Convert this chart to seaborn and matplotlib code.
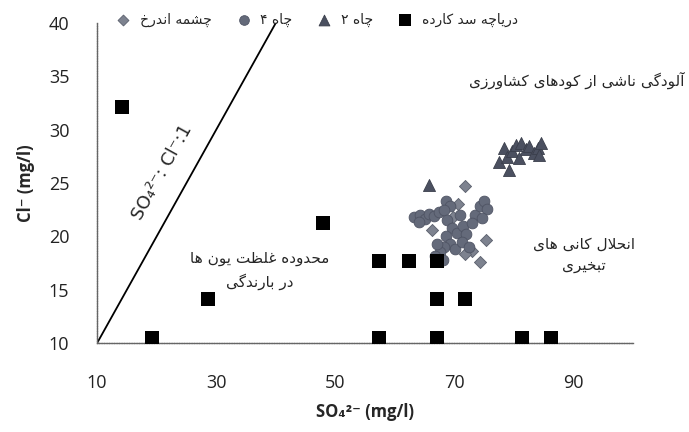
import pandas as pd
import matplotlib.pyplot as plt
import seaborn as sns

# dariache sad karde (squares)
sq_x = [14.2, 19.2, 28.6, 47.9, 57.4, 57.4, 62.4, 67.0, 67.0, 67.0, 71.8, 81.4, 86.2]
sq_y = [32.1, 10.45, 14.1, 21.2, 17.7, 10.45, 17.7, 17.7, 14.1, 10.45, 14.1, 10.45, 10.45]

# chah 2 (triangles)
tri_x = [65.8, 77.5, 78.3, 78.8, 79.6, 80.3, 81.2, 82.0, 82.5, 83.3, 84.0, 84.5, 84.2, 79.2, 80.8]
tri_y = [24.8, 27.0, 28.3, 27.4, 28.0, 28.6, 28.7, 28.2, 28.5, 27.8, 28.3, 28.7, 27.6, 26.2, 27.3]

# chah 4 (circles)
cir_x = [63.2, 64.2, 65.0, 65.8, 66.6, 67.4, 64.0, 68.5, 69.2, 68.2, 68.8, 69.5, 68.5,
         69.2, 70.0, 68.2, 67.5, 67.0, 70.5, 71.0, 71.5, 72.0, 71.2, 72.5, 73.5, 74.2,
         75.0, 75.5, 74.6, 73.0, 66.8, 68.0]
cir_y = [21.8, 22.0, 21.6, 22.1, 21.9, 22.3, 21.3, 23.3, 22.8, 22.5, 21.5, 20.8, 20.0,
         19.3, 18.8, 19.0, 18.5, 19.3, 20.3, 22.0, 21.0, 20.2, 19.5, 19.0, 22.0, 22.8,
         23.3, 22.6, 21.7, 21.2, 18.2, 17.8]

# cheshme andarkh (diamonds)
dia_x = [71.8, 74.2, 75.3, 73.0, 71.8, 69.8, 66.2, 70.6]
dia_y = [24.7, 17.6, 19.7, 18.6, 18.3, 21.8, 20.6, 23.0]

line_x = [10, 40]
line_y = [10, 40]

lbl_sq = 'دریاچه سد کارده'
lbl_tri = 'چاه ۲'
lbl_cir = 'چاه ۴'
lbl_dia = 'چشمه اندرخ'
txt_agri = 'آلودگی ناشی از کودهای کشاورزی'
txt_evap = ['انحلال کانی های', 'تبخیری']
txt_rain = ['محدوده غلظت یون ها', 'در بارندگی']

# simple persian shaping (matplotlib has no text shaping)
FORMS = {
    'ا': 'ﺍﺎ', 'آ': 'ﺁﺂ', 'د': 'ﺩﺪ', 'ذ': 'ﺫﺬ', 'ر': 'ﺭﺮ', 'ز': 'ﺯﺰ', 'ژ': 'ﮊﮋ', 'و': 'ﻭﻮ',
    'ب': 'ﺏﺐﺑﺒ', 'پ': 'ﭖﭗﭘﭙ', 'ت': 'ﺕﺖﺗﺘ', 'ج': 'ﺝﺞﺟﺠ', 'چ': 'ﭺﭻﭼﭽ', 'ح': 'ﺡﺢﺣﺤ',
    'خ': 'ﺥﺦﺧﺨ', 'س': 'ﺱﺲﺳﺴ', 'ش': 'ﺵﺶﺷﺸ', 'ظ': 'ﻅﻆﻇﻈ', 'غ': 'ﻍﻎﻏﻐ', 'ک': 'ﮎﮏﮐﮑ',
    'گ': 'ﮒﮓﮔﮕ', 'ل': 'ﻝﻞﻟﻠ', 'م': 'ﻡﻢﻣﻤ', 'ن': 'ﻥﻦﻧﻨ', 'ه': 'ﻩﻪﻫﻬ', 'ی': 'ﯼﯽﯾﯿ',
}


def fa(s):
    s = s.replace('لا', '\ufefb')
    out = []
    for i, c in enumerate(s):
        if c == '\ufefb':
            p = s[i - 1] if i > 0 else ''
            out.append('\ufefc' if len(FORMS.get(p, '')) == 4 else '\ufefb')
            continue
        f = FORMS.get(c)
        if f is None:
            out.append(c)
            continue
        p = s[i - 1] if i > 0 else ''
        n = s[i + 1] if i + 1 < len(s) else ''
        jp = len(FORMS.get(p, '')) == 4
        jn = len(f) == 4 and (n in FORMS or n == '\ufefb')
        if jp and jn:
            out.append(f[3])
        elif jp:
            out.append(f[1])
        elif jn:
            out.append(f[2])
        else:
            out.append(f[0])
    return ''.join(out)[::-1]


sns.set_style('white')
plt.rcParams['font.family'] = ['Open Sans', 'DejaVu Sans']

fig = plt.figure(figsize=(6.89, 4.32), dpi=100)
ax = fig.add_axes([0.141, 0.206, 0.778, 0.741])

ax.plot(line_x, line_y, color='black', lw=1.3, zorder=1)

sns.scatterplot(x=dia_x, y=dia_y, marker='D', s=38, color='#7d828f', edgecolor='#5a5f6c',
                linewidth=0.6, label=fa(lbl_dia), ax=ax, zorder=3)
sns.scatterplot(x=cir_x, y=cir_y, marker='o', s=60, color='#646a7a', edgecolor='#4f5464',
                linewidth=0.6, label=fa(lbl_cir), ax=ax, zorder=3)
sns.scatterplot(x=tri_x, y=tri_y, marker='^', s=75, color='#4b5060', edgecolor='#3a3e4b',
                linewidth=0.6, label=fa(lbl_tri), ax=ax, zorder=3)
sns.scatterplot(x=sq_x, y=sq_y, marker='s', s=95, color='black', edgecolor='black',
                linewidth=0, label=fa(lbl_sq), ax=ax, zorder=4)

ax.set_xlim(10, 100)
ax.set_ylim(10, 40)
ax.set_xticks([10, 30, 50, 70, 90])
ax.set_yticks([10, 15, 20, 25, 30, 35, 40])
ax.tick_params(axis='both', labelsize=13, length=2, width=0.6, pad=18, colors='#333333',
               labelcolor='#222222')
ax.tick_params(axis='x', pad=20)

for side in ['top', 'right']:
    ax.spines[side].set_visible(False)
for side in ['left', 'bottom']:
    ax.spines[side].set_color('#666666')
    ax.spines[side].set_linewidth(1.0)
    ax.spines[side].set_linestyle((0, (1.2, 0.6)))

ax.set_xlabel('SO₄²⁻ (mg/l)', fontsize=12, fontweight='bold', labelpad=8)
ax.set_ylabel('Cl⁻ (mg/l)', fontsize=12, fontweight='bold', labelpad=10)

ax.text(20.9, 26.0, 'SO₄²⁻: Cl⁻:1', fontsize=13, rotation=61,
        rotation_mode='anchor', ha='center', va='center', family='DejaVu Sans')

ax.text(90.6, 34.6, fa(txt_agri), fontsize=11, ha='center', va='center',
        family='DejaVu Sans', clip_on=False)
ax.text(91.7, 18.3, '\n'.join(fa(t) for t in txt_evap), fontsize=11, ha='center',
        va='center', family='DejaVu Sans', linespacing=1.5, clip_on=False)
ax.text(37.3, 16.8, '\n'.join(fa(t) for t in txt_rain), fontsize=11, ha='center',
        va='center', family='DejaVu Sans', linespacing=1.5)

ax.legend(ncol=4, loc='center', bbox_to_anchor=(0.455, 0.955), bbox_transform=fig.transFigure,
          frameon=False, handletextpad=0.2, columnspacing=1.3,
          markerscale=0.9, prop={'family': 'DejaVu Sans', 'size': 10})

fig.savefig('out.png', dpi=100)
